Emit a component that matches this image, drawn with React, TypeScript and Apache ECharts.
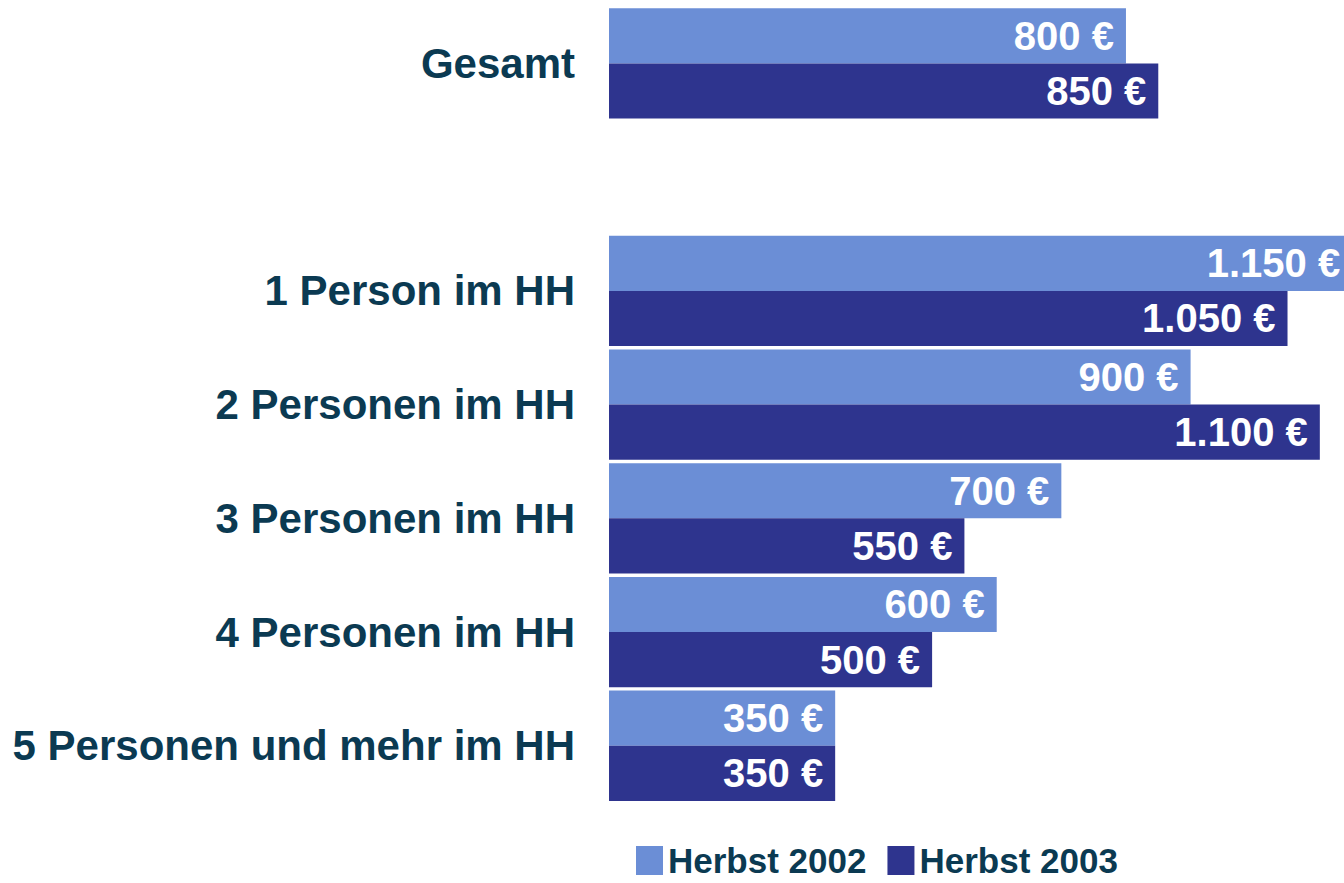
import React, { useEffect, useRef } from "react";
import * as echarts from "echarts";

const categories = [
  "Gesamt",
  "",
  "1 Person im HH",
  "2 Personen im HH",
  "3 Personen im HH",
  "4 Personen im HH",
  "5 Personen und mehr im HH",
];
const seriesNames = ["Herbst 2002", "Herbst 2003"];
const herbst2002 = [800, null, 1150, 900, 700, 600, 350];
const herbst2003 = [850, null, 1050, 1100, 550, 500, 350];
const colors = ["#6b8ed6", "#2e348e"];

const fmt = (v: number) => {
  const s = String(Math.round(v));
  return s.replace(/\B(?=(\d{3})+(?!\d))/g, ".") + " €";
};

export default function App() {
  const ref = useRef<HTMLDivElement>(null);
  useEffect(() => {
    if (!ref.current) return;
    const chart = echarts.init(ref.current, null, { renderer: "svg" });
    const font = "'Liberation Sans', Arial, sans-serif";
    const label = {
      show: true,
      position: "insideRight",
      distance: 12,
      color: "#ffffff",
      fontFamily: font,
      fontWeight: "bold",
      fontSize: 40,
      padding: [6, 0, 0, 0],
      formatter: (p: any) => (p.value == null ? "" : fmt(p.value)),
    };
    chart.setOption({
      animation: false,
      backgroundColor: "#ffffff",
      grid: { left: 609, top: 6.6, height: 796, right: 0, containLabel: false },
      xAxis: { type: "value", min: 0, max: 1137.4, show: false },
      yAxis: {
        type: "category",
        data: categories,
        inverse: true,
        axisLine: { show: false },
        axisTick: { show: false },
        splitLine: { show: false },
        axisLabel: {
          margin: 34,
          color: "#0b3a52",
          fontFamily: font,
          fontWeight: "bold",
          fontSize: 42,
          padding: [7, 0, 0, 0],
        },
      },
      legend: {
        left: 631,
        top: 838,
        padding: 5,
        itemWidth: 27,
        itemHeight: 29,
        itemGap: 21,
        icon: "rect",
        textStyle: {
          color: "#0b3a52",
          fontFamily: font,
          fontWeight: "bold",
          fontSize: 35,
        },
        data: seriesNames,
      },
      series: [
        {
          name: seriesNames[0],
          type: "bar",
          data: herbst2002,
          itemStyle: { color: colors[0] },
          barGap: "0%",
          barCategoryGap: "3%",
          clip: false,
          label,
        },
        {
          name: seriesNames[1],
          type: "bar",
          data: herbst2003,
          itemStyle: { color: colors[1] },
          barGap: "0%",
          barCategoryGap: "3%",
          clip: false,
          label,
        },
      ],
    });
    return () => chart.dispose();
  }, []);
  return (
    <div
      ref={ref}
      style={{ position: "absolute", left: 0, top: 0, width: 1344, height: 883, overflow: "hidden" }}
    />
  );
}
